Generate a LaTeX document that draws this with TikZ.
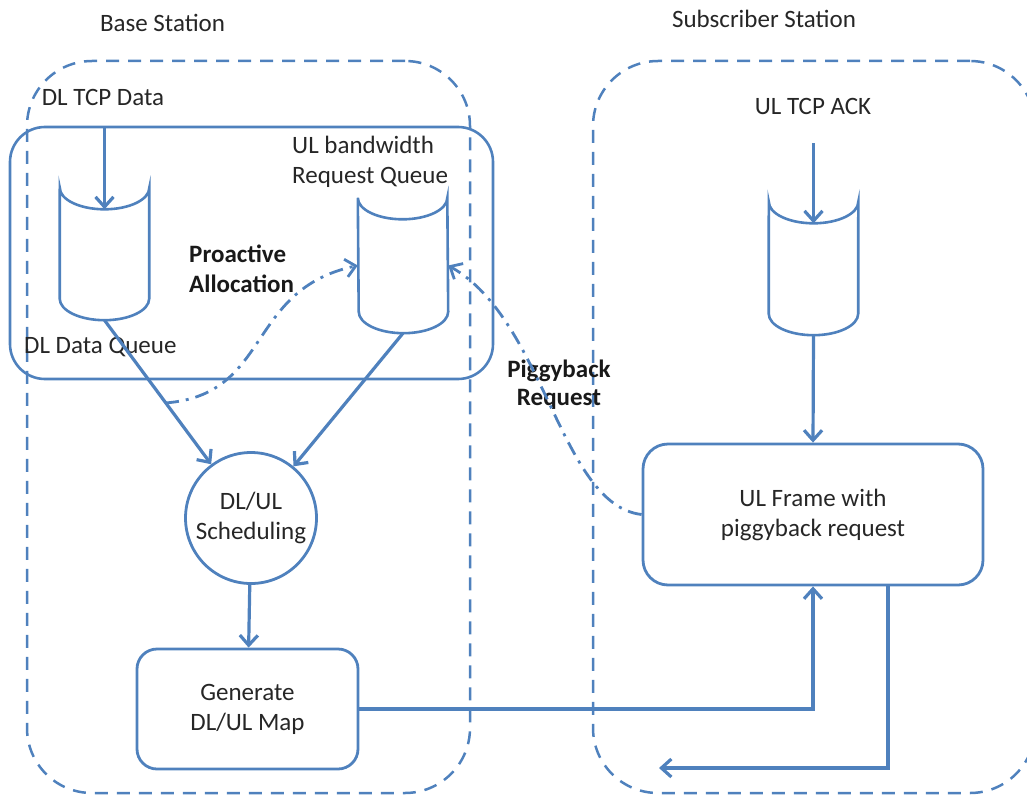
\documentclass[tikz,border=0pt]{standalone}
\usepackage{fontspec}
\setmainfont{Carlito}
\usetikzlibrary{arrows.meta}
\definecolor{lineblue}{HTML}{4F81BD}
\begin{document}
\begin{tikzpicture}[x=1pt,y=-1pt,
  txt/.style={font=\fontsize{25}{30}\selectfont, inner sep=0pt, text=black!85},
  boldtxt/.style={font=\fontsize{25}{30}\selectfont\bfseries, inner sep=0pt, text=black!90},
  groupbox/.style={draw=lineblue, line width=2.5pt, dash pattern=on 13pt off 9pt, rounded corners=65pt, inner sep=0pt},
  innerbox/.style={draw=lineblue, line width=2.6pt, rounded corners=35pt, inner sep=0pt},
  procbox/.style={draw=lineblue, line width=2.8pt, inner sep=0pt, align=center, font=\fontsize{25}{30}\selectfont, text=black!85},
  queue/.style={inner sep=0pt},
  canline/.style={draw=lineblue, line width=2.6pt, fill=white},
  tip/.style={-{Straight Barb[length=10pt,width=18pt]}},
  flow/.style={draw=lineblue, line width=3.2pt, tip},
  signal/.style={draw=lineblue, line width=2.8pt, dash pattern=on 14pt off 7pt on 3pt off 7pt, tip},
]
\useasboundingbox (0,0) rectangle (1027,797);

% station outlines
\node[groupbox, minimum width=443pt, minimum height=732pt] (bs) at (248.5,427) {};
\node[groupbox, minimum width=442pt, minimum height=732pt] (ss) at (814,427) {};
\node[txt, anchor=base] (bslabel) at (162.5,32) {Base Station};
\node[txt, anchor=base] (sslabel) at (764,28) {Subscriber Station};

% queue group inside the base station
\node[innerbox, minimum width=483pt, minimum height=252pt] (qgroup) at (251.5,253) {};

% queues
\node[queue, minimum width=89pt, minimum height=132pt] (dlq) at (104.5,254) {};
\node[queue, minimum width=90pt, minimum height=135pt] (ulq) at (403,265.5) {};
\node[queue, minimum width=89pt, minimum height=133pt] (ssq) at (813.5,268.5) {};
\foreach \q in {dlq,ulq,ssq}
  \draw[canline] (\q.north west) arc[start angle=180, end angle=360, x radius=44.75pt, y radius=21.5pt]
    -- ([yshift=21.5pt]\q.south east) arc[start angle=0, end angle=-180, x radius=44.75pt, y radius=21.5pt] -- cycle;

% labels
\node[txt, anchor=base] (dltcp) at (103,106) {DL TCP Data};
\node[txt, anchor=base] (ultcp) at (813,115) {UL TCP ACK};
\node[txt, anchor=base west] (ulbw1) at (292,153) {UL bandwidth};
\node[txt, anchor=base west] (ulbw2) at (292,183) {Request Queue};
\node[txt, anchor=base west] (dlqlabel) at (24,353) {DL Data Queue};
\node[boldtxt, anchor=base west] (pro1) at (189,262) {Proactive};
\node[boldtxt, anchor=base west] (pro2) at (189,292) {Allocation};
\node[boldtxt, anchor=base] (pig1) at (559,377) {Piggyback};
\node[boldtxt, anchor=base] (pig2) at (559,405) {Request};

% processing blocks
\node[procbox, circle, minimum size=131pt] (sched) at (251,518) {DL/UL\\Scheduling};
\node[procbox, rounded corners=20pt, minimum width=221pt, minimum height=120pt] (gen) at (247.5,709) {Generate\\DL/UL Map};
\node[procbox, rounded corners=25pt, minimum width=340pt, minimum height=141pt] (frame) at (813,514.5) {UL Frame with\\piggyback request};

% free ends
\coordinate (dlin) at (104.5,127);
\coordinate (ssin) at (813.5,143);
\coordinate (pastart) at (165,403);
\coordinate (ret) at (659,768);

% data flow
\draw[flow] (dlin) -- ([yshift=-21.5pt]dlq.north);
\draw[flow] (ssin) -- ([yshift=-21.5pt]ssq.north);
\draw[flow] (dlq.south) -- (sched);
\draw[flow] (ulq.south) -- (sched);
\draw[flow] (sched) -- (gen);
\draw[flow] (ssq.south) -- (frame.north);
\draw[flow] (gen.east) -| (frame.south);
\draw[flow] ([xshift=75pt]frame.south) |- (ret);

% bandwidth requests
\draw[signal] (pastart) .. controls (272,395) and (245,290) .. (ulq.west);
\draw[signal] (frame.west) .. controls (560,505) and (545,320) .. (ulq.east);
\end{tikzpicture}
\end{document}
